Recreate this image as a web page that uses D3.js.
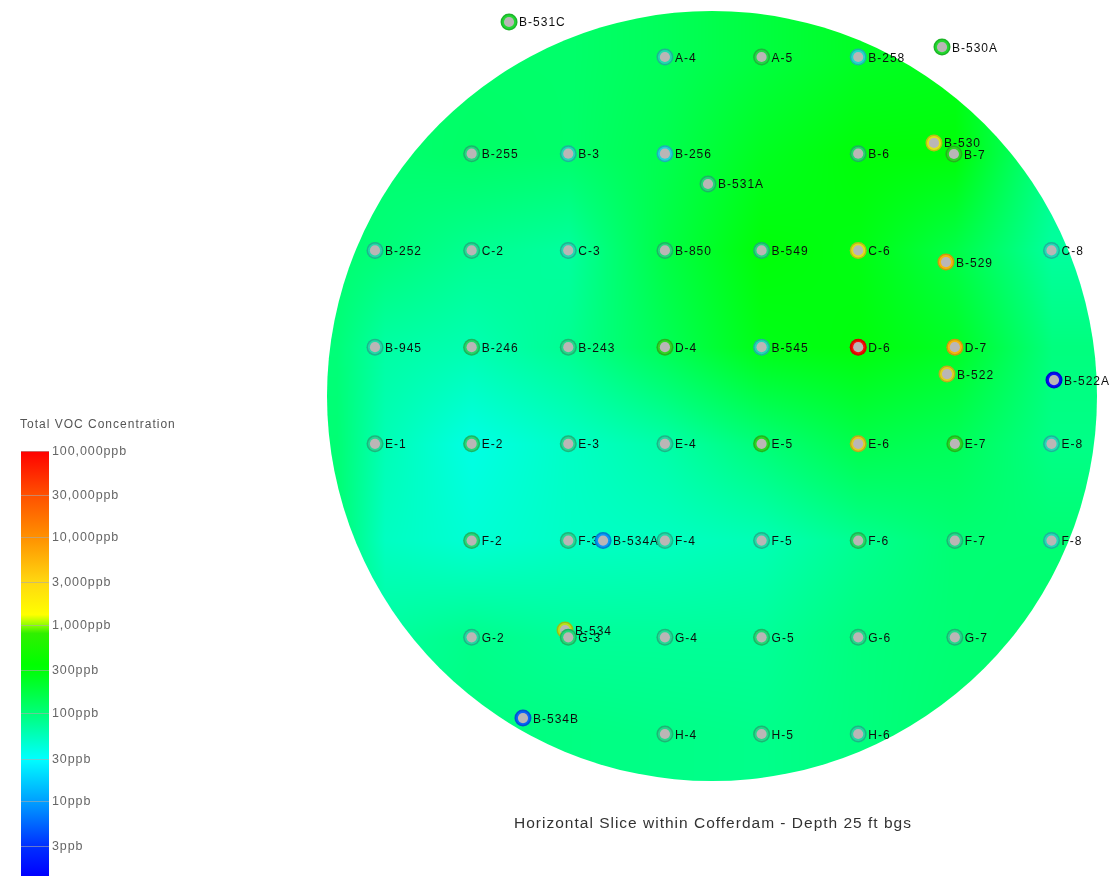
<!DOCTYPE html>
<html><head><meta charset="utf-8">
<script src="https://cdn.jsdelivr.net/npm/d3@7"></script>
<style>html,body{margin:0;padding:0;background:#fff;overflow:hidden}svg{display:block}</style>
</head><body><div id="chart"></div>
<script>
const legendTitle = "Total VOC Concentration";
const caption = "Horizontal Slice within Cofferdam - Depth 25 ft bgs";
const legendTicks = [100000,30000,10000,3000,1000,300,100,30,10,3,1];
const legendLabels = ["100,000ppb","30,000ppb","10,000ppb","3,000ppb","1,000ppb","300ppb","100ppb","30ppb","10ppb","3ppb",""];
const colorStops = [1,3,10,30,100,299,350,800,1000,1300,3000,10000,30000,100000];
const colorValues = ["#0000ff","#0030ff","#00a0ff","#00ffff","#00ff78","#00ff08","#00ff00","#30f000","#90ff00","#ffff00","#ffd810","#ff9000","#ff5000","#ff0000"];

// Field: ppb readings on the well lattice (rows A..H); columns listed in fieldCols
const fieldCols = [-0.4,0.1,1,2,3,4,5,6,7];
const fieldRow0 = [115,115,115,115,135,175,225,250,105];
const fieldRow1 = [110,110,120,115,150,235,300,300,82];
const fieldRow2 = [110,100,80,71,165,300,270,160,71];
const fieldRow3 = [100,68,60,80,140,260,290,225,95];
const fieldRow4 = [105,58,38,50,65,100,155,135,88];
const fieldRow5 = [105,52,44,50,52,58,80,105,105];
const fieldRow6 = [95,72,85,75,75,75,95,105,110];
const fieldRow7 = [95,85,95,92,88,85,95,110,110];
const fieldRows = [fieldRow0,fieldRow1,fieldRow2,fieldRow3,fieldRow4,fieldRow5,fieldRow6,fieldRow7];

const wellNames = ["B-531C","A-4","A-5","B-258","B-530A","B-255","B-3","B-256","B-531A","B-6","B-530","B-7","B-252","C-2","C-3","B-850","B-549","C-6","B-529","C-8","B-945","B-246","B-243","D-4","B-545","D-6","D-7","B-522","B-522A","E-1","E-2","E-3","E-4","E-5","E-6","E-7","E-8","F-2","F-3","B-534A","F-4","F-5","F-6","F-7","F-8","G-2","B-534","G-3","G-4","G-5","G-6","G-7","B-534B","H-4","H-5","H-6"];
const wellCol = [1.387,3,4,5,5.867,1,2,3,3.446,5,5.784,5.99,0,1,2,3,4,5,5.908,7,0,1,2,3,4,5,6,5.919,7.026,0,1,2,3,4,5,6,7,1,2,2.36,3,4,5,6,7,1,1.966,2,3,4,5,6,1.531,3,4,5];
const wellRow = [-0.362,0,0,0,-0.103,1,1,1,1.313,1,0.889,1.003,2,2,2,2,2,2,2.12,2,3,3,3,3,3,3,3,3.278,3.34,4,4,4,4,4,4,4,4,5,5,5,5,5,5,5,5,6,5.925,6,6,6,6,6,6.835,7,7,7];
const wellPpb = [260,50,200,35,280,90,45,28,100,120,1300,450,55,70,50,100,90,1500,5000,45,55,120,80,500,45,100000,5000,2200,1,70,100,70,60,400,2500,400,45,100,70,9,55,55,130,80,45,60,1150,100,70,100,80,80,5,80,80,60];

const W = 1114, H = 876;
const x = d3.scaleLinear().domain([0,7]).range([375,1051.5]);
const y = d3.scaleLinear().domain([0,7]).range([57,734]);
const color = d3.scaleLog().domain(colorStops).range(colorValues).interpolate(d3.interpolateRgb).clamp(true);
const legendY = d3.scaleLog().domain(legendTicks).range([451,495,537,582,625,670,713,759,801,846,876]);

const svg = d3.select("#chart").append("svg").attr("width",W).attr("height",H)
  .style("font-family","'Liberation Sans',Arial,sans-serif");
const defs = svg.append("defs");
const cx = 712, cy = 396, R = 385;
defs.append("clipPath").attr("id","disc").append("circle").attr("cx",cx).attr("cy",cy).attr("r",R);
const soft = defs.append("filter").attr("id","soft").attr("x","-5%").attr("y","-20%").attr("width","110%").attr("height","140%");
soft.append("feGaussianBlur").attr("stdDeviation",0.5);

// raster field
const cv = document.createElement("canvas"); cv.width=W; cv.height=H;
const ctx = cv.getContext("2d"); const img = ctx.createImageData(W,H);
const logRows = fieldRows.map(r=>r.map(Math.log10));
const cl=(v,a,b)=>Math.max(a,Math.min(b,v));
const colIndex = d3.scaleLinear().domain(fieldCols).range(fieldCols.map((d,i)=>i)).clamp(true);
const last = fieldCols.length-1;
for(let py=cy-R;py<=cy+R;py++){
  const fr = cl(y.invert(py),0,6.9999), r0=Math.floor(fr), tr=fr-r0;
  for(let px=cx-R;px<=cx+R;px++){
    const fc = Math.min(colIndex(x.invert(px)),last-0.0001), c0=Math.floor(fc), tc=fc-c0;
    const v = (1-tr)*((1-tc)*logRows[r0][c0]+tc*logRows[r0][c0+1]) + tr*((1-tc)*logRows[r0+1][c0]+tc*logRows[r0+1][c0+1]);
    const c = d3.rgb(color(Math.pow(10,v))), i=(py*W+px)*4;
    img.data[i]=c.r; img.data[i+1]=c.g; img.data[i+2]=c.b; img.data[i+3]=255;
  }
}
ctx.putImageData(img,0,0);
svg.append("image").attr("width",W).attr("height",H).attr("href",cv.toDataURL()).attr("clip-path","url(#disc)");

// wells
const wells = wellNames.map((name,i)=>({name,col:wellCol[i],row:wellRow[i],ppb:wellPpb[i]}));
const dull = d=> (d.ppb>=4000||d.ppb<=10) ? 0.06 : d.ppb>=1000 ? 0.22 : 0.3;
const ringColor = d=> d3.interpolateRgb(color(d.ppb),"#6e7e78")(dull(d));
const well = svg.append("g").attr("class","wells").selectAll("g").data(wells).join("g")
  .attr("transform",d=>`translate(${x(d.col)},${y(d.row)})`);
well.append("circle").attr("r",8.5).attr("fill",d=>d3.rgb(ringColor(d)).darker(0.5)).attr("filter","url(#soft)");
well.append("circle").attr("r",7).attr("fill",ringColor).attr("filter","url(#soft)");
well.append("circle").attr("r",5.1).attr("fill","#bab6b6").attr("filter","url(#soft)");
well.append("text").attr("x",10).attr("y",4.5).attr("font-size",12).attr("letter-spacing",1)
  .attr("fill","#111").attr("filter","url(#soft)").text(d=>d.name);

// caption
svg.append("text").attr("x",713).attr("y",828).attr("text-anchor","middle")
  .attr("font-size",15.5).attr("fill","#333").attr("letter-spacing",1).attr("filter","url(#soft)").text(caption);

// legend
const grad = defs.append("linearGradient").attr("id","ramp").attr("x1",0).attr("x2",0).attr("y1",0).attr("y2",1);
const lo = 451, hi = 876;
colorStops.slice().reverse().forEach(v=>{
  grad.append("stop").attr("offset",(legendY(v)-lo)/(hi-lo)).attr("stop-color",color(v));
});
svg.append("rect").attr("x",21).attr("y",lo).attr("width",28).attr("height",hi-lo).attr("fill","url(#ramp)");
svg.append("text").attr("x",20).attr("y",428).attr("font-size",12).attr("fill","#555").attr("letter-spacing",1)
  .attr("filter","url(#soft)").text(legendTitle);
const axis = d3.axisLeft(legendY).tickValues(legendTicks.slice(0,-1)).tickSize(28).tickFormat(d=>legendLabels[legendTicks.indexOf(d)]);
const ax = svg.append("g").attr("transform","translate(49,0)").call(axis);
ax.select(".domain").remove();
ax.selectAll("line").attr("stroke","#aaa").attr("stroke-opacity",0.6);
ax.selectAll("text").attr("x",3).attr("dy","0.25em").attr("text-anchor","start").attr("font-size",12.5).attr("font-family","'Liberation Sans',Arial,sans-serif")
  .attr("fill","#666").attr("letter-spacing",0.9).attr("filter","url(#soft)");
</script></body></html>
